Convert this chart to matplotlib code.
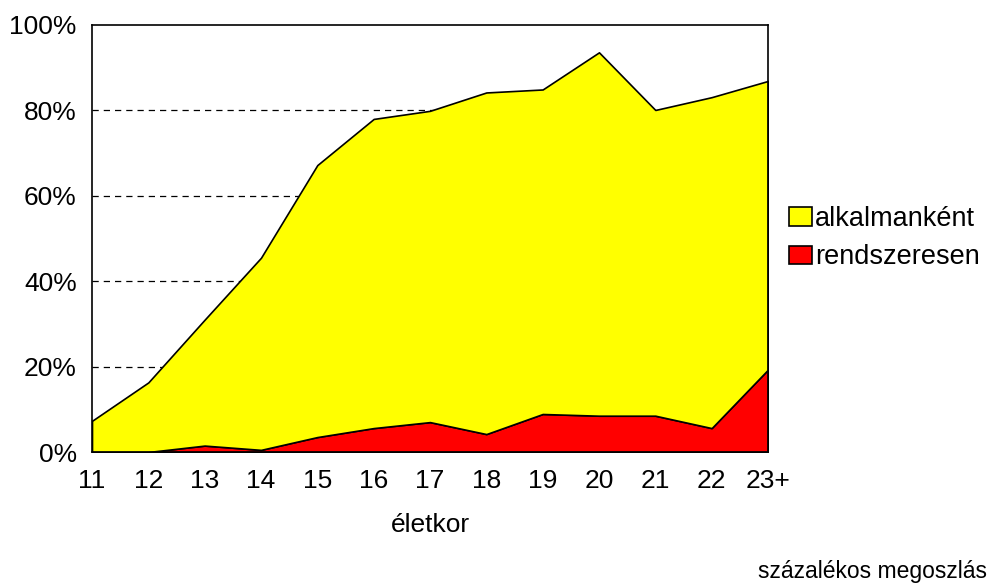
import matplotlib
matplotlib.use("Agg")
import matplotlib.pyplot as plt
import numpy as np

plt.rcParams['font.family'] = ['Liberation Sans', 'DejaVu Sans']

ages = ["11", "12", "13", "14", "15", "16", "17", "18", "19", "20", "21", "22", "23+"]
rendszeresen = [0.0, 0.0, 1.5, 0.5, 3.5, 5.6, 7.0, 4.2, 8.9, 8.5, 8.5, 5.6, 19.3]
alkalmankent = [7.3, 16.3, 29.5, 45.0, 63.7, 72.4, 72.9, 80.0, 76.0, 85.1, 71.6, 77.5, 67.6]
y_ticks = [0, 20, 40, 60, 80, 100]

fig = plt.figure(figsize=(9.9, 5.83), dpi=100)
ax = fig.add_axes([92/990, 1 - 452/583, (768-92)/990, (452-25)/583])

x = np.arange(len(ages))
ax.stackplot(x, rendszeresen, alkalmankent,
             colors=['#ff0000', '#ffff00'],
             edgecolor='black', linewidth=1.2,
             labels=['rendszeresen', 'alkalmanként'], zorder=2)

ax.set_xlim(0, len(ages) - 1)
ax.set_ylim(0, 100)
ax.set_xticks(x)
ax.set_xticklabels(ages)
ax.set_yticks(y_ticks)
ax.set_yticklabels([f"{v}%" for v in y_ticks])
ax.tick_params(axis='both', length=0, labelsize=19)
ax.tick_params(axis='y', pad=11)
ax.tick_params(axis='x', pad=12)

for v in y_ticks[1:-1]:
    ax.axhline(v, color='black', linestyle=(0, (5, 4)), linewidth=0.9, zorder=1)

for s in ax.spines.values():
    s.set_color('black')
    s.set_linewidth(1.2)
    s.set_zorder(3)

ax.set_xlabel("életkor", fontsize=19, labelpad=15)

handles, labels = ax.get_legend_handles_labels()
leg = fig.legend(handles[::-1], labels[::-1], loc='upper left',
                 bbox_to_anchor=(789/990, 1 - 206/583), frameon=False,
                 fontsize=19.5, handlelength=0.85, handleheight=0.65,
                 handletextpad=0.1, labelspacing=0.45, borderaxespad=0,
                 borderpad=0)

fig.text(987/990, 1 - 578/583, "százalékos megoszlás", fontsize=16.5,
         ha='right', va='baseline')

fig.savefig("out.png", dpi=100)
